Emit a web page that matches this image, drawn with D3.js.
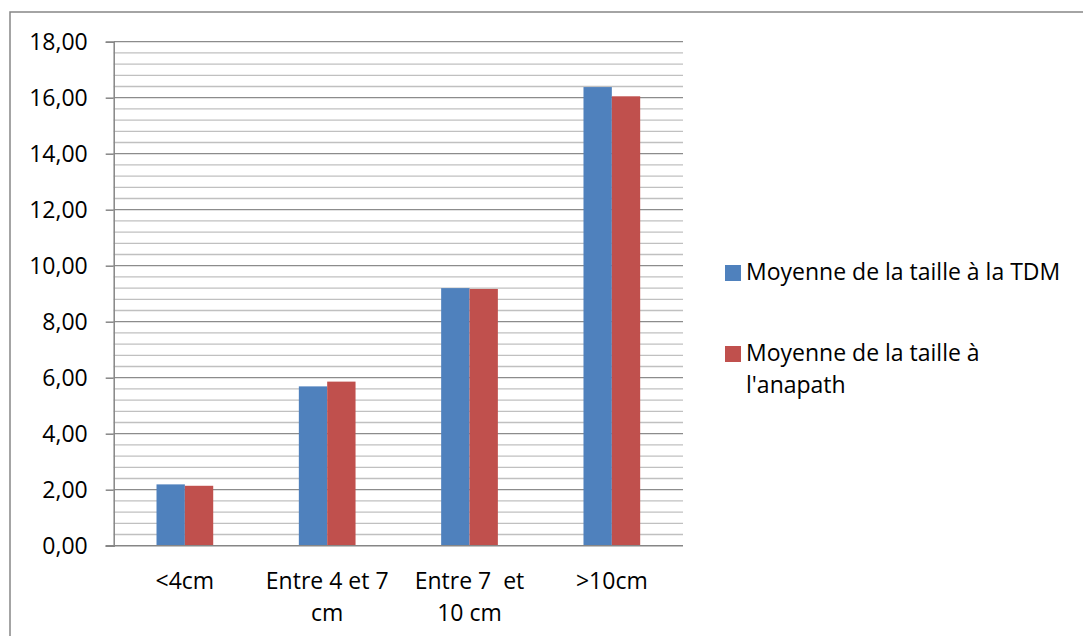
<!DOCTYPE html>
<html>
<head>
<meta charset="utf-8">
<script src="https://cdn.jsdelivr.net/npm/d3@7"></script>
<style>
  html, body { margin: 0; padding: 0; background: #fff; }
  svg { display: block; }
  text { font-family: "Open Sans", "Noto Sans", sans-serif; fill: #000; }
</style>
</head>
<body>
<script>
// Mean tumour size per size class: CT measurement vs. pathology measurement
const categories = ["<4cm", "Entre 4 et 7 cm", "Entre 7  et 10 cm", ">10cm"];
const categoryLines = [["<4cm"], ["Entre 4 et 7", "cm"], ["Entre 7  et", "10 cm"], [">10cm"]];
const seriesNames = ["Moyenne de la taille à la TDM", "Moyenne de la taille à l'anapath"];
const legendLines = [["Moyenne de la taille à la TDM"], ["Moyenne de la taille à", "l'anapath"]];
const tdmValues = [2.19, 5.69, 9.20, 16.38];
const anapathValues = [2.14, 5.86, 9.17, 16.05];
const yTicks = [0, 2, 4, 6, 8, 10, 12, 14, 16, 18];
const colors = ["#4F81BD", "#C0504D"];

const W = 1083, H = 636;
const plot = { left: 113.7, right: 683, top: 41.7, bottom: 545.7 };
const FS = 23;

const svg = d3.select("body").append("svg").attr("width", W).attr("height", H);

// chart frame (only top and left edges are inside the window)
svg.append("path")
  .attr("d", `M10,${H} L10,12 L${W},12`)
  .attr("fill", "none").attr("stroke", "#868686").attr("stroke-width", 1.5);

const y = d3.scaleLinear().domain([0, 18]).range([plot.bottom, plot.top]);
const x0 = d3.scaleBand().domain(categories).range([plot.left, plot.right]).padding(0);
const x1 = d3.scaleBand().domain(seriesNames).range([0, x0.bandwidth()])
  .paddingInner(0).paddingOuter(1.51);

// minor gridlines every 0.4
const minor = d3.range(0, 18.001, 0.4).filter(v => Math.abs(v / 2 - Math.round(v / 2)) > 1e-6);
svg.append("g").selectAll("line").data(minor).join("line")
  .attr("x1", plot.left).attr("x2", plot.right)
  .attr("y1", d => y(d)).attr("y2", d => y(d))
  .attr("stroke", "#c0c0c0").attr("stroke-width", 1.3);

// major gridlines
svg.append("g").selectAll("line").data(yTicks.filter(d => d > 0)).join("line")
  .attr("x1", plot.left).attr("x2", plot.right)
  .attr("y1", d => y(d)).attr("y2", d => y(d))
  .attr("stroke", "#8c8c8c").attr("stroke-width", 1.3);

// bars
const rows = categories.map((c, i) => ({ cat: c, vals: [tdmValues[i], anapathValues[i]] }));
const groups = svg.append("g").selectAll("g").data(rows).join("g")
  .attr("transform", d => `translate(${x0(d.cat)},0)`);
groups.selectAll("rect").data(d => d.vals.map((v, j) => ({ v, s: seriesNames[j], j })))
  .join("rect")
  .attr("x", d => x1(d.s))
  .attr("width", x1.bandwidth())
  .attr("y", d => y(d.v))
  .attr("height", d => y(0) - y(d.v))
  .attr("fill", d => colors[d.j]);

// y axis
const yAxis = d3.axisLeft(y).tickValues(yTicks).tickSize(8).tickPadding(18)
  .tickFormat(d => d3.format(".2f")(d).replace(".", ","));
const gy = svg.append("g").attr("transform", `translate(${plot.left},0)`).call(yAxis);
gy.select(".domain").attr("stroke", "#868686").attr("stroke-width", 1.5);
gy.selectAll(".tick line").attr("stroke", "#868686").attr("stroke-width", 1.5);
gy.selectAll(".tick text").attr("font-size", FS).attr("font-family", "Open Sans").attr("fill", "#000");

// x axis baseline
const xAxis = d3.axisBottom(x0).tickSize(0).tickFormat("");
const gx = svg.append("g").attr("transform", `translate(0,${plot.bottom})`).call(xAxis);
gx.select(".domain").attr("stroke", "#868686").attr("stroke-width", 1.5)
  .attr("d", `M${plot.left - 8},0H${plot.right}`);

// category labels
categories.forEach((c, i) => {
  const t = svg.append("text")
    .attr("x", x0(c) + x0.bandwidth() / 2)
    .attr("y", 589)
    .attr("text-anchor", "middle")
    .attr("font-size", FS);
  categoryLines[i].forEach((ln, k) => {
    t.append("tspan").attr("x", x0(c) + x0.bandwidth() / 2).attr("dy", k === 0 ? 0 : 32)
      .style("white-space", "pre").text(ln);
  });
});

// legend
const legendY = [280, 361];
seriesNames.forEach((s, i) => {
  svg.append("rect").attr("x", 725).attr("y", legendY[i] - 15)
    .attr("width", 16).attr("height", 16).attr("fill", colors[i]);
  const t = svg.append("text").attr("x", 746).attr("y", legendY[i]).attr("font-size", FS);
  legendLines[i].forEach((ln, k) => {
    t.append("tspan").attr("x", 746).attr("dy", k === 0 ? 0 : 32).text(ln);
  });
});
</script>
</body>
</html>
